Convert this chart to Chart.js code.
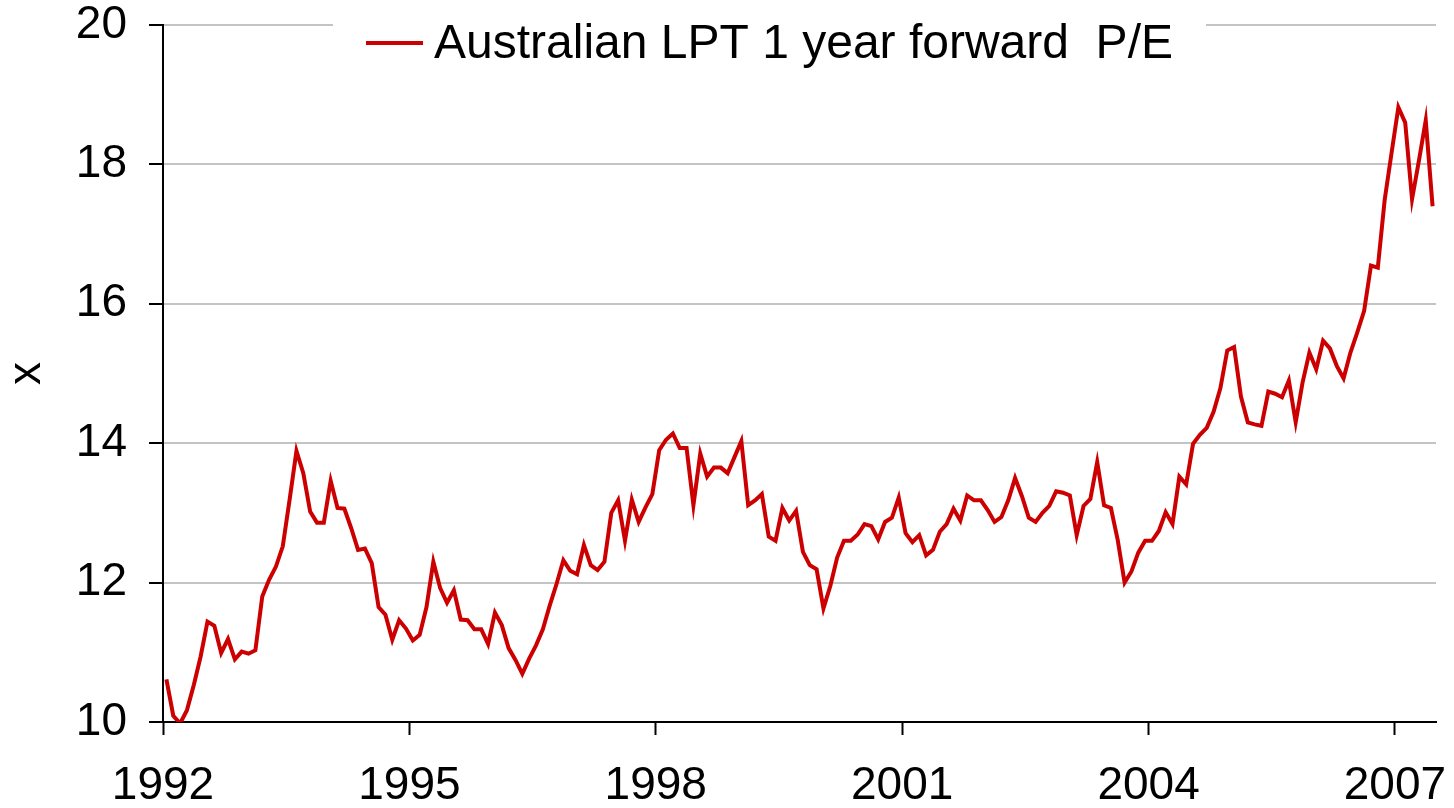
<!DOCTYPE html>
<html>
<head>
<meta charset="utf-8">
<script src="https://cdn.jsdelivr.net/npm/chart.js@4.4.0/dist/chart.umd.min.js"></script>
<style>
  body { margin: 0; background: #fff; }
  #wrap { width: 1454px; height: 808px; position: relative; }
</style>
</head>
<body>
<div id="wrap"><canvas id="graficoPE"></canvas></div>
<script>
// monthly 1 year forward P/E, Jan 1992 - Jun 2007
const startYear = 1992;
const pe1992 = [10.61, 10.09, 9.98, 10.17, 10.53, 10.94, 11.44, 11.38, 10.99, 11.19, 10.90, 11.01];
const pe1993 = [10.98, 11.03, 11.80, 12.04, 12.23, 12.52, 13.19, 13.89, 13.57, 13.02, 12.86, 12.86];
const pe1994 = [13.46, 13.07, 13.06, 12.78, 12.47, 12.49, 12.28, 11.65, 11.54, 11.18, 11.46, 11.34];
const pe1995 = [11.17, 11.25, 11.65, 12.30, 11.92, 11.71, 11.89, 11.47, 11.46, 11.33, 11.33, 11.12];
const pe1996 = [11.57, 11.39, 11.06, 10.89, 10.69, 10.91, 11.10, 11.33, 11.67, 11.98, 12.32, 12.17];
const pe1997 = [12.12, 12.54, 12.25, 12.18, 12.30, 13.00, 13.18, 12.60, 13.19, 12.87, 13.08, 13.27];
const pe1998 = [13.90, 14.05, 14.14, 13.93, 13.93, 13.11, 13.85, 13.52, 13.65, 13.65, 13.57, 13.80];
const pe1999 = [14.03, 13.11, 13.18, 13.27, 12.66, 12.60, 13.07, 12.89, 13.03, 12.44, 12.25, 12.19];
const pe2000 = [11.63, 11.95, 12.36, 12.60, 12.60, 12.69, 12.84, 12.81, 12.62, 12.87, 12.93, 13.22];
const pe2001 = [12.71, 12.58, 12.68, 12.39, 12.47, 12.73, 12.84, 13.06, 12.89, 13.25, 13.18, 13.18];
const pe2002 = [13.04, 12.87, 12.94, 13.18, 13.50, 13.24, 12.93, 12.87, 13.00, 13.10, 13.31, 13.29];
const pe2003 = [13.25, 12.68, 13.10, 13.20, 13.73, 13.11, 13.07, 12.61, 12.00, 12.16, 12.43, 12.60];
const pe2004 = [12.60, 12.74, 13.01, 12.84, 13.52, 13.41, 13.99, 14.12, 14.22, 14.45, 14.79, 15.33];
const pe2005 = [15.38, 14.67, 14.30, 14.27, 14.25, 14.74, 14.71, 14.66, 14.90, 14.30, 14.87, 15.30];
const pe2006 = [15.06, 15.47, 15.36, 15.11, 14.93, 15.30, 15.59, 15.90, 16.55, 16.52, 17.49, 18.16];
const pe2007 = [18.82, 18.60, 17.50, 18.05, 18.63, 17.40];

const yearTicks = [1992, 1995, 1998, 2001, 2004, 2007];
const yTicks = [10, 12, 14, 16, 18, 20];
const serieLabel = 'Australian LPT 1 year forward  P/E';

const todosValores = [].concat(pe1992, pe1993, pe1994, pe1995, pe1996, pe1997, pe1998,
  pe1999, pe2000, pe2001, pe2002, pe2003, pe2004, pe2005, pe2006, pe2007);

// each month sits in the middle of its slot
const pontos = todosValores.map((v, i) => ({ x: startYear + (i + 0.5) / 12, y: v }));

const fonte = { family: "'Liberation Sans', Arial, sans-serif", size: 46 };

// fixed axis size, no extra padding for the end labels
function fixaEixo(tamanho) {
  return function (scale) {
    if (scale.isHorizontal()) scale.height = tamanho; else scale.width = tamanho;
    scale.paddingTop = 0;
    scale.paddingBottom = 0;
    scale.paddingLeft = 0;
    scale.paddingRight = 0;
  };
}

// legend drawn inside the plot, on a white box over the top gridline
const legendaCaixa = {
  id: 'legendaCaixa',
  beforeDatasetsDraw(chart, args, opts) {
    const ctx = chart.ctx;
    const ds = chart.data.datasets[0];
    ctx.save();
    ctx.font = opts.font;
    const larguraTexto = ctx.measureText(ds.label).width;
    const x0 = chart.chartArea.left + opts.offsetX;
    const y = chart.chartArea.top + opts.offsetY;
    ctx.fillStyle = '#fff';
    ctx.fillRect(x0 - opts.pad, chart.chartArea.top - 6, opts.lineLen + opts.gap + larguraTexto + opts.pad * 2, 50);
    ctx.strokeStyle = ds.borderColor;
    ctx.lineWidth = ds.borderWidth;
    ctx.beginPath();
    ctx.moveTo(x0, y);
    ctx.lineTo(x0 + opts.lineLen, y);
    ctx.stroke();
    ctx.fillStyle = '#000';
    ctx.textBaseline = 'alphabetic';
    ctx.fillText(ds.label, x0 + opts.lineLen + opts.gap, y + 15);
    ctx.restore();
  }
};

const grafico = new Chart(document.getElementById('graficoPE'), {
  type: 'line',
  data: {
    datasets: [{
      label: serieLabel,
      data: pontos,
      borderColor: '#cc0000',
      borderWidth: 4,
      pointRadius: 0,
      tension: 0,
      fill: false
    }]
  },
  options: {
    responsive: true,
    maintainAspectRatio: false,
    animation: false,
    layout: { autoPadding: false, padding: { top: 25, right: 18, left: 0, bottom: 0 } },
    plugins: {
      legend: { display: false },
      tooltip: { enabled: false },
      legendaCaixa: {
        font: "48px 'Liberation Sans', Arial, sans-serif",
        offsetX: 203, offsetY: 18, lineLen: 57, gap: 11, pad: 33
      }
    },
    scales: {
      x: {
        type: 'linear',
        min: 1992,
        max: 2007.5,
        afterFit: fixaEixo(86),
        afterBuildTicks(scale) { scale.ticks = yearTicks.map(v => ({ value: v })); },
        grid: { drawOnChartArea: false, tickLength: 13, tickColor: '#000', tickWidth: 2 },
        border: { color: '#000', width: 2 },
        ticks: { color: '#000', font: fonte, padding: 24, maxRotation: 0, autoSkip: false,
          callback: v => String(v) }
      },
      y: {
        min: 10,
        max: 20,
        afterFit: fixaEixo(163),
        afterBuildTicks(scale) { scale.ticks = yTicks.map(v => ({ value: v })); },
        grid: { color: '#c4c4c4', lineWidth: 2, tickLength: 14, tickColor: '#000', tickWidth: 2 },
        border: { color: '#000', width: 2 },
        ticks: { color: '#000', font: fonte, padding: 22 },
        title: { display: true, text: 'x', color: '#000', font: fonte, padding: 0 }
      }
    }
  },
  plugins: [legendaCaixa]
});
</script>
</body>
</html>
